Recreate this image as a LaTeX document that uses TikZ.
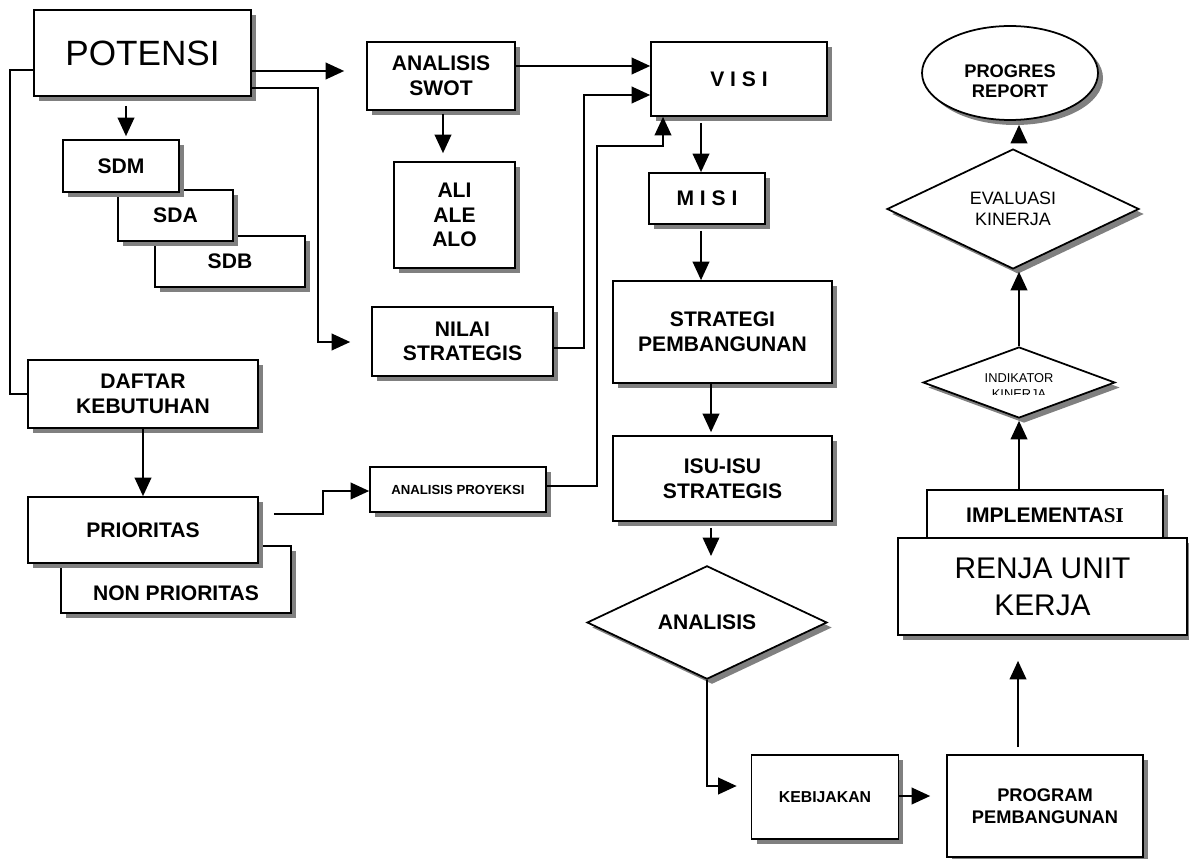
\documentclass[tikz,border=0pt]{standalone}
\usepackage{fontspec}
\setmainfont{Liberation Sans}
\newfontfamily\serifsi{Liberation Serif}
\usetikzlibrary{arrows.meta,shapes.geometric,shadows}

\tikzset{
	shade/.style={drop shadow={shadow xshift=0.1cm, shadow yshift=-0.1cm, fill=black!50, opacity=1}},
	box/.style={draw, fill=white, line width=1pt, shade, inner sep=0pt, align=center,
		font=\bfseries\fontsize{12}{14}\selectfont},
	dmd/.style={diamond, draw, fill=white, line width=1pt, shade, inner sep=0pt, align=center},
	oval/.style={ellipse, draw, fill=white, line width=1pt, shade, inner sep=0pt},
	lbl/.style={font=\bfseries\fontsize{12}{14}\selectfont, align=center},
	line/.style={line width=0.85pt},
	arr/.style={line width=0.85pt, -{Triangle[length=10.5pt,width=9.5pt]}}
}

\begin{document}
\begin{tikzpicture}[x=0.02cm, y=-0.02cm]
	\useasboundingbox (0,0) rectangle (1189,858);
	% left column
	\node[box, minimum width=4.34cm, minimum height=1.72cm, font=\fontsize{20}{23}\selectfont] (potensi) at (142.5,53) {POTENSI};
	\node[box, minimum width=3.0cm, minimum height=1.02cm] (sdb) at (230,261.5) {SDB};
	\node[box, minimum width=2.3cm, minimum height=1.02cm] (sda) at (175.5,215.5) {SDA};
	\node[box, minimum width=2.32cm, minimum height=1.04cm] (sdm) at (121,166) {SDM};
	\node[box, minimum width=4.6cm, minimum height=1.36cm] (daftar) at (143,394) {DAFTAR\\KEBUTUHAN};
	\node[box, minimum width=4.6cm, minimum height=1.34cm, label={[lbl, yshift=-0.27cm]center:NON PRIORITAS}] (nonprio) at (176,579.5) {};
	\node[box, minimum width=4.6cm, minimum height=1.32cm] (prio) at (143,530) {PRIORITAS};
	% analisis
	\node[box, minimum width=2.96cm, minimum height=1.36cm] (swot) at (441,76) {ANALISIS\\SWOT};
	\node[box, minimum width=2.42cm, minimum height=2.12cm] (ali) at (454.5,215) {ALI\\ALE\\ALO};
	\node[box, minimum width=3.62cm, minimum height=1.38cm] (nilai) at (462.5,341.5) {NILAI\\STRATEGIS};
	\node[box, minimum width=3.52cm, minimum height=0.9cm, font=\bfseries\fontsize{7.5}{9}\selectfont] (proyeksi) at (458,489.5) {ANALISIS PROYEKSI};
	% middle column
	\node[box, minimum width=3.52cm, minimum height=1.48cm] (visi) at (739,79) {V I S I};
	\node[box, minimum width=2.32cm, minimum height=1.02cm] (misi) at (707,198.5) {M I S I};
	\node[box, minimum width=4.38cm, minimum height=2.04cm] (strategi) at (722.5,332) {STRATEGI\\PEMBANGUNAN};
	\node[box, minimum width=4.38cm, minimum height=1.70cm] (isu) at (722.5,478.5) {ISU-ISU\\STRATEGIS};
	\node[dmd, minimum width=4.8cm, minimum height=1.42cm, font=\bfseries\fontsize{12}{14}\selectfont] (analisis) at (707,622.5) {ANALISIS};
	\node[box, minimum width=2.94cm, minimum height=1.68cm, font=\bfseries\fontsize{9}{11}\selectfont] (kebijakan) at (825,797) {KEBIJAKAN};
	% right column
	\node[box, minimum width=3.92cm, minimum height=2.04cm, font=\bfseries\fontsize{10.4}{12.3}\selectfont] (program) at (1045,806) {PROGRAM\\PEMBANGUNAN};
	\node[box, minimum width=4.72cm, minimum height=1.0cm] (impl) at (1045,515) {IMPLEMENTA{\serifsi\bfseries SI}};
	\node[box, minimum width=5.78cm, minimum height=1.94cm, font=\fontsize{17}{21}\selectfont] (renja) at (1042.5,586.5) {RENJA UNIT\\KERJA};
	\node[dmd, minimum width=3.84cm, minimum height=1.42cm] (indikator) at (1019,382.5) {};
	\begin{scope}
		\clip (923,340) rectangle (1115,394);
		\node[align=center, font=\fontsize{7.3}{8.8}\selectfont] (indtext) at (1019,386) {INDIKATOR\\KINERJA};
	\end{scope}
	\node[dmd, minimum width=5.04cm, minimum height=2.24cm, font=\fontsize{10.2}{11.9}\selectfont] (evaluasi) at (1013,209) {EVALUASI\\KINERJA};
	\node[oval, minimum width=3.52cm, minimum height=1.88cm, label={[lbl, font=\bfseries\fontsize{10.4}{11.7}\selectfont, yshift=-0.16cm]center:PROGRES\\REPORT}] (progres) at (1010,73) {};

	% connectors
	\draw[line] (potensi.west |- 0,70) -- ++(-23,0) |- (daftar.west);
	\draw[arr, shorten >=0.44cm] (potensi.east |- 0,71) -- (swot.west |- 0,71);
	\draw[arr, shorten >=0.42cm] (potensi.east |- 0,88) -| (318,342) -- (nilai.west |- 0,342);
	\draw[arr, shorten <=0.18cm, shorten >=0.06cm] (potensi.south -| 126,0) -- (sdm.north -| 126,0);
	\draw[arr, shorten <=0.06cm, shorten >=0.16cm] (swot.south -| 443,0) -- (ali.north -| 443,0);
	\draw[arr] (swot.east |- 0,66) -- (visi.west |- 0,66);
	\draw[arr] (nilai.east |- 0,348) -| (584,95) -- (visi.west |- 0,95);
	\draw[arr] (proyeksi.east |- 0,486) -| (597,146) -| (visi.south -| 663,0);
	\draw[arr, shorten <=0.3cm] (prio.east |- 0,514) -| (323,491) -- (proyeksi.west |- 0,491);
	\draw[arr] (daftar.south) -- (prio.north);
	\draw[arr, shorten <=0.12cm] (visi.south -| 701,0) -- (misi.north -| 701,0);
	\draw[arr, shorten <=0.12cm] (misi.south -| 701,0) -- (strategi.north -| 701,0);
	\draw[arr, shorten >=0.06cm] (strategi.south -| 711,0) -- (isu.north -| 711,0);
	\draw[arr, shorten <=0.12cm, shorten >=0.18cm] (isu.south -| 711,0) -- (analisis.north -| 711,0);
	\draw[arr, shorten >=0.28cm] (analisis.south) |- (kebijakan.west |- 0,786);
	\draw[arr, shorten >=0.32cm] (kebijakan.east |- 0,796) -- (program.west |- 0,796);
	\draw[arr, shorten <=0.14cm, shorten >=0.5cm] (program.north -| 1018,0) -- (renja.south -| 1018,0);
	\draw[arr, shorten >=0.04cm] (impl.north -| 1019,0) -- (indikator.south -| 1019,0);
	\draw[arr, shorten >=0.04cm] (indikator.north -| 1019,0) -- (evaluasi.south -| 1019,0);
	\draw[arr, shorten <=0.12cm, shorten >=0.08cm] (evaluasi.north -| 1019,0) -- (progres.south -| 1019,0);
\end{tikzpicture}
\end{document}
